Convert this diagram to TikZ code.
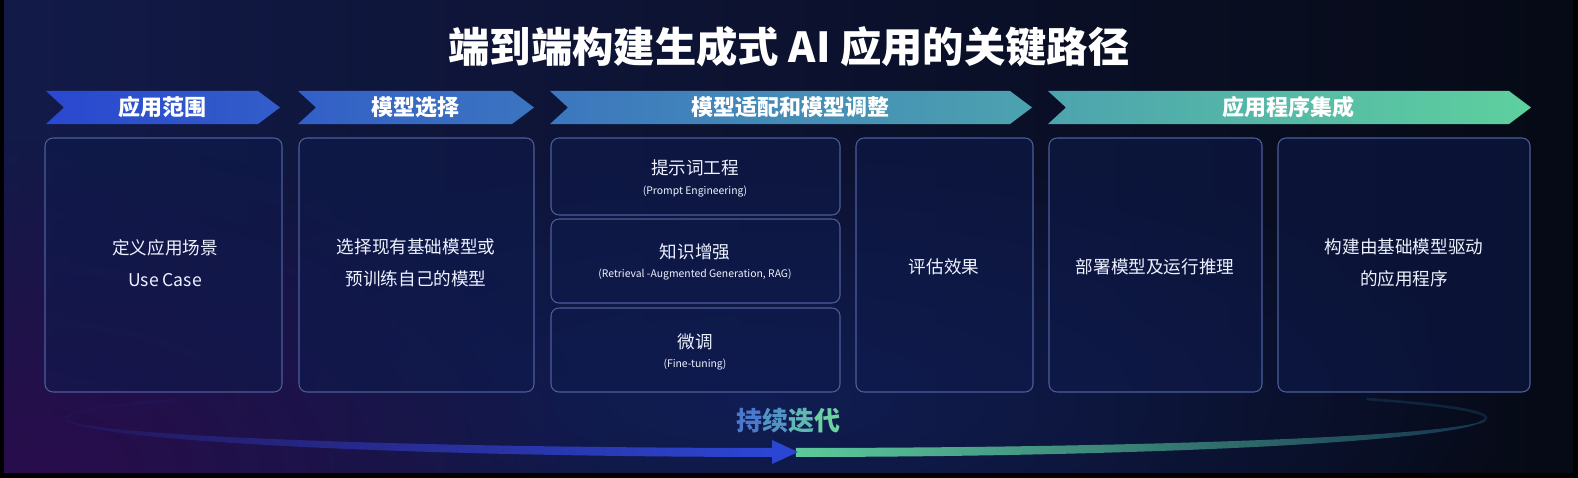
\documentclass[tikz,border=0pt]{standalone}
\usepackage{fontspec}
\newfontfamily\cjk{Noto Sans CJK SC}
\usetikzlibrary{fadings,fit}
\tikzfading[name=radfade, inner color=transparent!0, outer color=transparent!100]
\definecolor{bgL}{HTML}{121A48}
\definecolor{bgR}{HTML}{060A16}
\definecolor{bgPurple}{HTML}{2A0C4C}
\definecolor{bgGlow}{HTML}{12205C}
\definecolor{boxfill}{HTML}{0E1A4C}
\definecolor{boxline}{HTML}{4C5E9A}
\definecolor{hA}{HTML}{2A48D0}
\definecolor{hB}{HTML}{3A82C4}
\definecolor{hC}{HTML}{5ED09E}
\definecolor{txtc}{HTML}{EEF2FF}
\definecolor{arcBlue}{HTML}{2C46D4}
\definecolor{arcBlueMid}{HTML}{2A38B4}
\definecolor{arcBlueEnd}{HTML}{22165A}
\definecolor{arcGreen}{HTML}{5CCA9C}
\definecolor{arcGreenMid}{HTML}{3E9EA0}
\definecolor{arcGreenEnd}{HTML}{14344E}
\definecolor{cA}{HTML}{4A78CC}
\definecolor{cB}{HTML}{5294C4}
\definecolor{cC}{HTML}{60B8B2}
\definecolor{cD}{HTML}{6CD2A2}
\begin{document}
\begin{tikzpicture}[x=0.75pt,y=-0.75pt,
  box/.style={draw=boxline, line width=0.8pt, rounded corners=6pt, fill=boxfill, fill opacity=0.55, inner sep=0pt},
  titletxt/.style={font=\cjk\bfseries\fontsize{31}{36}\selectfont, text=white},
  headtxt/.style={font=\cjk\bfseries\fontsize{16.5}{20}\selectfont, text=white},
  maintxt/.style={font=\cjk\fontsize{13.2}{24}\selectfont, text=txtc, align=center},
  subtxt/.style={font=\cjk\fontsize{7.8}{9}\selectfont, text=txtc},
  looptxt/.style={font=\cjk\bfseries\fontsize{19.5}{22}\selectfont}
]
\useasboundingbox (0,0) rectangle (1578,478);
% background
\fill[black] (0,0) rectangle (1578,478);
\begin{scope}
\clip (4,0) rectangle (1573,472);
\shade[left color=bgL, right color=bgR] (4,0) rectangle (1573,472);
\fill[bgGlow, path fading=radfade, opacity=0.8] (760,400) ellipse (760 and 260);
\fill[bgPurple, path fading=radfade, opacity=0.95] (40,470) ellipse (560 and 330);
\end{scope}

% title
\node[titletxt] (title) at (789,47) {端到端构建生成式 AI 应用的关键路径};

% header arrows
\shade[left color=hA, middle color=hB, right color=hC]
  (46,91) -- (258,91) -- (280,107.5) -- (258,124) -- (46,124) -- (64,107.5) -- cycle
  (298,91) -- (512,91) -- (534,107.5) -- (512,124) -- (298,124) -- (316,107.5) -- cycle
  (550,91) -- (1010,91) -- (1032,107.5) -- (1010,124) -- (550,124) -- (568,107.5) -- cycle
  (1048,91) -- (1509,91) -- (1531,107.5) -- (1509,124) -- (1048,124) -- (1066,107.5) -- cycle;
\node[headtxt] (h1) at (162,107) {应用范围};
\node[headtxt] (h2) at (415,107) {模型选择};
\node[headtxt] (h3) at (790,107) {模型适配和模型调整};
\node[headtxt] (h4) at (1288,107) {应用程序集成};

% boxes
\node[box, fit={(45,138) (282,392)}] (b1) {};
\node[box, fit={(299,138) (534,392)}] (b2) {};
\node[box, fit={(551,138) (840,215)}] (s1) {};
\node[box, fit={(551,219) (840,303)}] (s2) {};
\node[box, fit={(551,308) (840,392)}] (s3) {};
\node[box, fit={(856,138) (1033,392)}] (b4) {};
\node[box, fit={(1049,138) (1262,392)}] (b5) {};
\node[box, fit={(1278,138) (1530,392)}] (b6) {};

% texts
\node[maintxt] (t1) at (165,263) {定义应用场景\\Use Case};
\node[maintxt] (t2) at (416,263) {选择现有基础模型或\\预训练自己的模型};
\node[maintxt] (t31) at (695,168) {提示词工程};
\node[subtxt] (t32) at (695,192) {(Prompt Engineering)};
\node[maintxt] (t41) at (695,252) {知识增强};
\node[subtxt] (t42) at (695,275) {(Retrieval -Augmented Generation, RAG)};
\node[maintxt] (t51) at (695,342) {微调};
\node[subtxt] (t52) at (695,365) {(Fine-tuning)};
\node[maintxt] (t6) at (944,267) {评估效果};
\node[maintxt] (t7) at (1155,267) {部署模型及运行推理};
\node[maintxt] (t8) at (1404,263) {构建由基础模型驱动\\的应用程序};

% iteration loop: faint tails
\draw[arcBlueEnd, line width=2pt, opacity=0.5, domain=172:212, samples=40]
  plot ({786+720*cos(\x)},{418+34*sin(\x)});
\draw[arcGreenEnd, line width=2pt, opacity=0.6, domain=8:-34, samples=40]
  plot ({786+700*cos(\x)},{418+34*sin(\x)});
% blue crescent
\shade[left color=arcBlueEnd, middle color=arcBlueMid, right color=arcBlue]
  plot[domain=90.8:176, samples=90] ({786+720*cos(\x)},{418+39*sin(\x)})
  -- plot[domain=176:90.8, samples=90] ({786+720*cos(\x)},{418+30*sin(\x)}) -- cycle;
% green crescent
\shade[left color=arcGreen, middle color=arcGreenMid, right color=arcGreenEnd]
  plot[domain=89.2:4, samples=90] ({786+700*cos(\x)},{418+39*sin(\x)})
  -- plot[domain=4:89.2, samples=90] ({786+700*cos(\x)},{418+30*sin(\x)}) -- cycle;
\fill[arcBlue] (772,440) -- (798,452) -- (772,464) -- cycle;
\node[looptxt] (loop) at (788,421) {\textcolor{cA}{持}\textcolor{cB}{续}\textcolor{cC}{迭}\textcolor{cD}{代}};
\end{tikzpicture}
\end{document}
